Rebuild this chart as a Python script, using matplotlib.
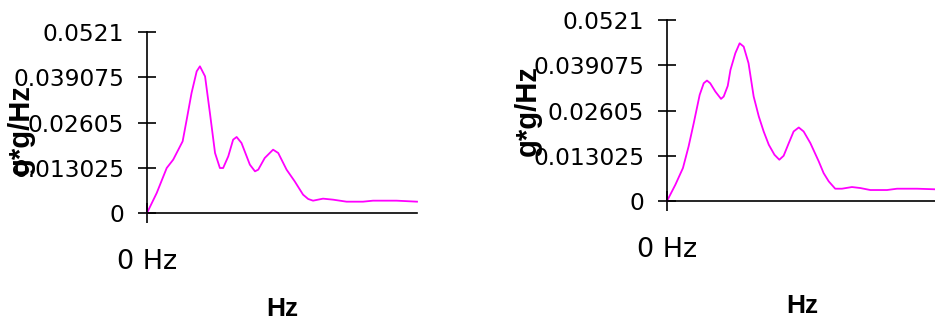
import matplotlib.pyplot as plt

# spectrum 1 (left)
freq_1 = [0, 3.6, 7.3, 9.7, 13.2, 14.7, 16.5, 18.4, 19.6, 21.5, 23.3, 25.2, 27.0, 28.2,
          30.1, 31.9, 33.2, 35.0, 38.1, 40.0, 41.2, 43.6, 46.7, 48.6, 51.7, 54.7, 57.8,
          59.7, 61.5, 65.2, 68.9, 73.9, 80.0, 83.7, 92.4, 100]
psd_1 = [0, 0.00576, 0.01295, 0.01535, 0.02063, 0.02687, 0.03454, 0.04078, 0.04222,
         0.03934, 0.02879, 0.01727, 0.01295, 0.01295, 0.01631, 0.02111, 0.02188, 0.02015,
         0.01391, 0.01199, 0.01247, 0.01583, 0.01823, 0.01727, 0.01247, 0.00912, 0.00528,
         0.00403, 0.00355, 0.00413, 0.00384, 0.00326, 0.00326, 0.00355, 0.00355, 0.00326]

# spectrum 2 (right)
freq_2 = [0, 3.1, 5.9, 8.0, 9.9, 12.1, 13.6, 14.8, 16.0, 17.9, 20.0, 21.0, 22.5, 23.5,
          25.3, 26.9, 28.4, 30.2, 32.1, 34.0, 35.8, 37.7, 39.8, 41.6, 43.2, 45.1, 46.9,
          48.8, 50.6, 53.1, 56.2, 58.0, 59.9, 62.3, 64.8, 68.5, 71.6, 75.3, 81.5, 85.2,
          92.6, 100]
psd_2 = [0, 0.00469, 0.00948, 0.01571, 0.02241, 0.03055, 0.03390, 0.03467, 0.03390,
         0.03151, 0.02940, 0.03007, 0.03314, 0.03773, 0.04252, 0.04540, 0.04444, 0.03965,
         0.03007, 0.02433, 0.02002, 0.01619, 0.01331, 0.01188, 0.01302, 0.01666, 0.02002,
         0.02116, 0.02002, 0.01666, 0.01140, 0.00804, 0.00565, 0.00354, 0.00354, 0.00402,
         0.00373, 0.00316, 0.00316, 0.00354, 0.00354, 0.00335]

y_ticks = [0, 0.013025, 0.02605, 0.039075, 0.0521]
y_tick_labels = ['0', '0.013025', '0.02605', '0.039075', '0.0521']
x_tick_label = '0 Hz'
x_label = 'Hz'
y_label = 'g*g/Hz'

W, H = 935, 322
fig = plt.figure(figsize=(W / 100, H / 100), dpi=100)

# axes boxes in pixels: left, top, width, height
boxes = [(147, 32, 270, 181), (667, 20, 270, 181)]
ylabel_pos = [(-0.467, 0.459), (-0.515, 0.497)]
xlabel_pos = [(0.5, -0.462), (0.5, -0.512)]
series = [(freq_1, psd_1), (freq_2, psd_2)]

for (l, t, w, h), (fx, fy), ylp, xlp in zip(boxes, series, ylabel_pos, xlabel_pos):
    ax = fig.add_axes([l / W, 1 - (t + h) / H, w / W, h / H])
    ax.plot(fx, fy, color='#ff00ff', lw=1.3, clip_on=False, solid_joinstyle='round')
    ax.set_xlim(0, 100)
    ax.set_ylim(0, 0.0521)
    for s in ['top', 'right']:
        ax.spines[s].set_visible(False)
    for s in ['left', 'bottom']:
        ax.spines[s].set_linewidth(1.2)
    ax.set_yticks(y_ticks)
    ax.set_yticklabels(y_tick_labels, fontfamily='DejaVu Sans', fontsize=16.8)
    ax.set_xticks([0])
    ax.set_xticklabels([x_tick_label], fontfamily='DejaVu Sans', fontsize=19.5)
    ax.tick_params(axis='y', direction='inout', length=13, width=1.2, pad=10)
    ax.tick_params(axis='x', direction='inout', length=14.5, width=1.2, pad=19)
    ax.set_xlabel(x_label, fontfamily='Liberation Sans', fontweight='bold', fontsize=19)
    ax.xaxis.set_label_coords(*xlp)
    ax.set_ylabel(y_label, fontfamily='Liberation Sans', fontweight='bold', fontsize=21,
                  va='center')
    ax.yaxis.set_label_coords(*ylp)

fig.savefig('out.png', dpi=100)
